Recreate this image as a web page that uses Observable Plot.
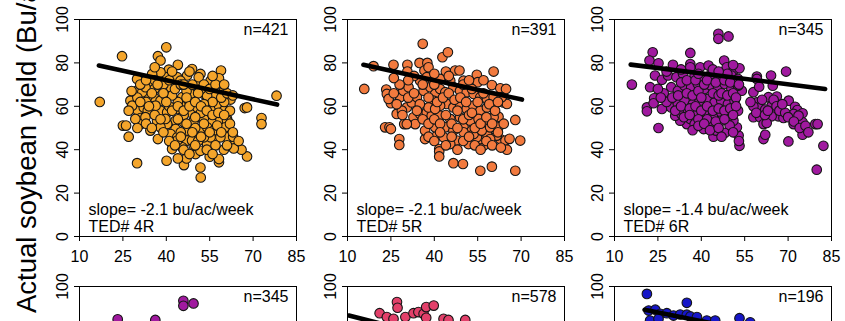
<!DOCTYPE html>
<html>
<head>
<meta charset="utf-8">
<script src="https://cdn.jsdelivr.net/npm/d3@7"></script>
<script src="https://cdn.jsdelivr.net/npm/@observablehq/plot@0.6"></script>
<style>
  html, body { margin: 0; padding: 0; background: white; }
  #fig { position: relative; width: 845px; height: 321px; overflow: hidden; background: white; }
  .panel { position: absolute; width: 274px; height: 267px; }
  .panel svg { max-width: none !important; }
  #ylab { position: absolute; left: 0; top: 0; pointer-events: none; }
</style>
</head>
<body>
<div id="fig">
  <svg id="ylab" width="845" height="321">
    <text id="ylabtext" transform="translate(36,313) rotate(-90)" font-family="'Liberation Sans', Arial, Helvetica, sans-serif" font-size="27.5" fill="black"></text>
  </svg>
</div>
<script>
// ---------- data ----------
const X_TICKS = [10, 25, 40, 55, 70, 85];
const Y_TICKS = [0, 20, 40, 60, 80, 100];
const Y_TICKS_LOWER = [100];
const Y_TITLE = "Actual soybean yield (Bu/ac)";

const N_LABELS = ["n=421", "n=391", "n=345", "n=345", "n=578", "n=196"];
const NOTES = ["slope= -2.1 bu/ac/week\nTED# 4R", "slope= -2.1 bu/ac/week\nTED# 5R", "slope= -1.4 bu/ac/week\nTED# 6R"];
const COLORS = ["#F4A52B", "#F27A3E", "#A0199F", "#A0199F", "#E2406A", "#1616C8"];

// panel TED# 4R : [x, yield]
const pts4R = [
[17.0,62.0],[24.7,83.1],[25,51.1],[26.1,51.1],[27.0,46.0],[29.9,33.8],[37.1,83.1],[38,81.1],[40,87.2],[40.9,76.9],
[44.0,79.1],[40.1,34.9],[48.9,77.2],[51.8,74.9],[58.9,76.5],[58.2,72.9],[51.8,31.8],[51.9,27.2],[46.1,32.9],[47.0,36.0],
[50.1,38.0],[55.0,36.8],[58.2,34.2],[58.2,35.7],[67.9,36.9],[66.0,40.0],[63.1,41.8],[63.3,40.6],[59.9,40.0],[61.0,45.7],
[63.1,46.0],[67.1,59.2],[67.9,59.5],[72.9,54.6],[72.9,51.8],[78.1,64.9],[62.2,63.1],[59.9,67.2],[57.0,64.9],[61.0,54.2],
[57,45.7],[54.1,43.4],[34.5,48.8],[37.1,44.9],[29.9,72.6],[29.9,67.2],[30.2,58.0],[31.1,54.6],[31.1,51.8],[27.6,62.6],
[32.2,59.5],[33.6,58],[34.7,70.3],[35.9,68],[35.7,64.2],[38,62.6],[40.1,64.2],[41.5,68.8],[38,58],[40.3,57.2],
[43.2,53.4],[43.2,49.5],[42,42.6],[44.9,44.2],[47.2,48.8],[43.8,58.8],[46.1,61.1],[48.4,57.2],[50.7,59.5],[49.5,65.7],
[53,65.7],[50.7,70.3],[54.1,64.9],[47.2,74.2],[51.2,73.4],[55.3,71.8],[46.1,52.6],[49.5,53.4],[53,54.2],[55.9,52.6],
[57.6,57.2],[51.8,48.8],[54.1,50.3],[56.4,48.8],[58.7,45.7],[47.2,44.2],[49.5,41.8],[51.8,39.5],[54.1,42.6],[41.5,47.2],
[43.8,45.7],[40.3,51.8],[36.8,53.4],[33.4,64.2],[31.7,66.5],[32.8,68.8],[40.3,73.4],[38,75.7],[35.1,74.9],[43.8,73.4],
[44.9,71.8],[45.5,64.2],[48.4,65.7],[29.3,54.2],[28.2,60.3],[32.8,55],[36.3,60.3],[38,50.3],[39.7,54.2],[55.9,59.5],
[58.2,60.3],[59.9,58],[58.7,54.2],[61,53.4],[60.4,50.3],[57.6,51.1],[55.3,45.7],[53,45.7],[50.1,46.5],[48.9,44.2],
[45.5,41.1],[42,40.3],[43.8,44.2],[44,62],[46,56],[48,62],[52,57],[42,65],[39,70],[36,72],
[33,62],[30,64],[52,68],[56,62],[60,62],[62,58],[45,48],[50,50],[53,61],[41,60],[44,54],[47,67],[50,55],
[31,70],[33,72],[35,66],[37,70],[39,66],[41,72],[43,68],[45,70],[47,64],[49,70],[51,66],[53,70],[55,68],[57,70],[59,64],[61,66],[63,65],
[31,62],[34,60],[36,56],[38,54],[40,62],[42,58],[44,60],[46,58],[48,60],[50,62],[52,60],[54,58],[56,56],[58,57],[60,56],[62,52],
[33,52],[35,50],[39,48],[41,44],[43,42],[45,46],[47,52],[49,48],[51,44],[53,52],[55,48],[57,42],[59,48],[61,42],[63,48],[65,44],
[46,40],[48,38],[50,42],[52,46],[54,40],[56,38],[44,36],[28,67],[27,58],[30,50],[46,70],[48,76],[42,76],[36,78],[56,74],[60,70]
];
const line4R_x = [16.7, 78.3];
const line4R_y = [78.8, 60.8];

// panel TED# 5R
const pts5R = [
[15.8,68.0],[19.0,78.5],[23.4,67.7],[23.6,65.7],[25.0,61.4],[23.0,50.3],[24.5,50.3],[25,49.5],[27.9,44.9],[27.9,42.2],
[29.6,51.8],[25.9,79.1],[30.7,79.1],[30.7,76],[34.9,80],[37.6,80],[36,88.8],[36.6,76.5],[42.8,82.6],[44.7,84.9],
[44,76],[47.2,76.5],[48.7,76.5],[50.1,71.8],[54.7,74.5],[55,71.1],[60.5,76],[59.9,69.8],[62.8,68.3],[64.8,68],
[41.7,40.3],[41.7,39.2],[41.7,36.9],[46.6,33.8],[49.9,33.4],[55.9,30.3],[59.9,32.2],[68,30.3],[62.8,44.9],[64.6,44.2],
[65.1,40.0],[68,53.7],[69.7,44.2],[62.2,55.2],[57.0,41.8],[55.9,44.9],[58.2,47.2],[47.8,44.2],[51.8,42.6],[54.7,45.7],
[43.8,50.3],[46.6,48.8],[50.1,50.3],[53,48.8],[40.9,46.5],[40.3,50.3],[36.8,44.9],[36.8,48.8],[32.8,54.9],[35.1,56.5],
[37.4,57.2],[39.1,55.7],[30.5,59.5],[32.2,61.8],[34,64.2],[28.2,64.2],[29.3,67.2],[31.1,68.8],[36.3,67.2],[38.6,68.8],
[40.3,65.7],[42,68],[43.8,66.5],[35.1,71.8],[37.4,73.4],[39.7,71.8],[42,72.6],[45.5,71.8],[46.6,68.8],[48.9,67.2],
[51.2,66.5],[53.6,65.7],[55.9,64.2],[58.2,63.4],[60.5,64.2],[44.3,61.1],[46.6,59.5],[48.9,61.1],[51.2,58.8],[53.5,60.3],
[55.9,58],[58.2,59.5],[60.5,60.3],[42,55.7],[45.5,54.2],[48.9,54.9],[52.4,53.4],[55.3,54.2],[58.2,52.6],[60.5,54.9],
[63.9,61.8],[65.1,61.1],[63.3,64.2],[39.7,62.6],[42,60.3],[38,59.5],[40.3,58.8],[50.1,48],[53.6,47.2],[56.4,48.8],
[59.3,50.3],[62.2,50.3],[61.6,46.5],[59.3,44.9],[33.4,51.8],[30.5,51.8],[27,56.5],[28.8,58],[24.2,63.4],[45.5,42.6],
[43.2,45.7],
[26,66],[27,61],[29,56],[31,64],[33,66],[35,61],[36,70],[38,64],[40,70],[41,62],[43,64],[45,66],[47,63],[49,64],[51,62],[53,68],[55,62],[57,66],[59,61],[61,58],[62,62],
[34,58],[36,54],[38,52],[40,54],[42,52],[44,56],[46,52],[48,50],[50,54],[52,56],[54,50],[56,52],[58,55],[60,52],[62,48],[64,52],
[38,46],[40,44],[42,48],[44,42],[46,46],[48,40],[50,44],[52,46],[54,42],[56,40],[58,44],[60,42],[63,41],[66,45],
[33,74],[38,78],[40,75],[45,74],[50,70],[52,72],[57,72],[48,58],[53,57],[31,72],[28,70],[26,73]
];
const line5R_x = [15.5, 70.3];
const line5R_y = [79.1, 63.1];

// panel TED# 6R
const pts6R = [
[16.0,70],[23.2,84.9],[22.1,81.1],[25.2,79.8],[22.3,68.8],[21.2,59.5],[21.2,57.7],[25.2,50],[23.7,63.7],[23.5,61.4],
[26.4,58.8],[24,74.2],[26.4,72.2],[30.2,79.1],[36.2,84.6],[36.2,79.5],[36.2,78],[39.6,78],[42.5,78.8],[45.9,93.4],
[45.9,91.1],[49.4,92.2],[47.9,81.1],[48.8,78],[51.1,76.5],[53.2,77.5],[54,67.2],[59.2,73.7],[59.2,72.6],[64.1,74.2],
[64.7,69.5],[69.3,76],[66.1,64.5],[70.2,62.6],[72.4,59.8],[73.2,58.3],[75,56.8],[75,52.6],[75,46.9],[70.1,43.8],
[61.5,44.9],[62.1,46.9],[79.4,51.8],[80.2,51.8],[82.2,41.8],[79.9,30.8],[71.9,56.5],[71.9,51.8],[58,66.5],[59.2,61.8],
[60.3,59.5],[58,55],[60.3,55],[61.5,51.8],[63.2,64.2],[64.3,60.3],[65.5,57.7],[66.6,55.4],[68.4,54.6],[64.3,55.4],
[62.6,52.3],[62.1,58.5],[53.2,41.8],[52.9,46.5],[52.3,50.3],[51.1,53.4],[50.6,56.5],[44.2,46],[45.1,48.8],[40.8,49.5],
[42.5,51.8],[35,51.8],[36.2,54.2],[32.7,53.4],[31,55.7],[29.6,59.5],[31.9,61.1],[34.2,62.6],[37.1,61.1],[39.4,62.6],
[42.3,63.4],[44.6,61.8],[46.9,62.6],[49.2,61.1],[51.5,62.6],[29.6,68.8],[31.9,67.2],[34.2,69.5],[36.5,68.8],[38.8,70.3],
[41.1,68],[43.4,69.5],[45.8,68.8],[48.1,70.3],[50.4,68],[52.7,69.5],[28.5,74.2],[31.4,73.4],[33.7,74.9],[37.7,74.2],
[40.6,73.4],[43.4,74.9],[46.9,73.4],[50.4,74.2],[52.7,72.6],[33.1,56.5],[35.4,58],[38.3,56.5],[41.1,57.2],[44,55.7],
[46.9,57.2],[49.8,55.7],[52.7,58],[37.7,51.8],[40,53.4],[43.4,51.8],[46.9,53.4],[49.8,51.1],[48.1,47.7],[73.6,55.7],
[27,66],[28,62],[30,64],[32,65],[33,71],[35,72],[35,66],[37,65],[38,72],[39,67],[40,64],[41,70],[42,72],[44,66],[45,71],[46,65],[47,66],[48,72],[49,65],[50,71],[51,66],[52,64],[53,70],
[31,58],[33,60],[36,59],[38,60],[40,58],[42,60],[44,58],[46,59],[48,58],[50,59],[52,60],[34,55],[36,56],[39,54],[42,54],[45,53],[48,54],[51,56],
[37,49],[39,51],[41,52],[43,49],[46,50],[47,46],[51,48],[53,44],
[58,60],[59,57],[61,63],[62,56],[63,58],[65,63],[66,60],[67,58],[69,57],[70,55],[72,53],[74,50],[76,51],[77,48],[68,61],[60,69],[57,62],
[25,68],[26,64],[28,76],[33,77],[39,75],[44,77],[49,75],[51,79],[46,76]
];
const line6R_x = [15.6, 82.8];
const line6R_y = [79.2, 68.0];

// lower row (only the top part is visible)
const ptsLowMid = [
[27.1,92.8],[27.3,90.2],[21.1,87.7],[23.6,85.9],[25.9,85.1],[30,85.9],[32.8,87.7],[34.5,88.2],[36.3,87.4],[37.2,90.5],
[39.8,91.2],[37.2,85.6],[43.2,85.1],[44.9,84.6],[50.7,84.6]
];
const lineLowMid_x = [10.5, 72];
const lineLowMid_y = [86.6, 66.0];

const ptsLowRight = [
[21.2,96.6],[35,92.5],[53.2,85.4],[56.9,83.5],[21.8,88.9],[24.1,89.3],[25.8,87.4],[28.1,87.7],[30.4,86.6],[32.7,87.1],
[35,87],[36.2,86.2],[38.5,85.9],[41.9,84.3],[44.8,84.3],[22.3,84.3],[25.2,85.1]
];
const lineLowRight_x = [20.4, 62];
const lineLowRight_y = [89.3, 78.1];

// ---------- drawing ----------
const FONT = "'Liberation Sans', Arial, Helvetica, sans-serif";
const FRAME_LEFTS = [79, 347, 614];
const FRAME_TOPS = [19, 286];
const ML = 45, MT = 10, MR = 12, MB = 40, FW = 217, FH = 217;

function panel(pts, lx, ly, fill, nLabel, note, lower) {
  const data = pts.map(([x, y]) => ({x, y}));
  const ln = lx.map((x, i) => ({x, y: ly[i]}));
  const marks = [
    Plot.dot(data, {x: "x", y: "y", r: 4.8, fill, fillOpacity: 1, stroke: "#151515", strokeWidth: 1.1, clip: true}),
    Plot.line(ln, {x: "x", y: "y", stroke: "black", strokeWidth: 4.6, strokeLinecap: "round", clip: true}),
    Plot.frame({stroke: "black", strokeWidth: 1}),
    Plot.axisY(lower ? Y_TICKS_LOWER : Y_TICKS, {tickSize: 5, tickPadding: 7, tickRotate: -90, label: null, fontSize: 16}),
    Plot.text([nLabel], {text: d => d, frameAnchor: "top-right", textAnchor: "end", lineAnchor: "bottom", dx: -8, dy: 15, fontSize: 16, fill: "black"})
  ];
  if (!lower) {
    marks.push(Plot.axisX(X_TICKS, {tickSize: 5, tickPadding: 9, label: null, fontSize: 16}));
    marks.push(Plot.text([note], {text: d => d, frameAnchor: "bottom-left", textAnchor: "start", lineAnchor: "bottom", lineHeight: 1.025, dx: 9, dy: -5, fontSize: 16, fill: "black"}));
  } else {
    marks.push(Plot.axisX({ticks: [], label: null}));
  }
  return Plot.plot({
    width: ML + FW + MR,
    height: MT + FH + MB,
    marginLeft: ML, marginRight: MR, marginTop: MT, marginBottom: MB,
    x: {domain: [10, 85]},
    y: {domain: [0, 100]},
    style: {fontFamily: FONT, fontSize: "16px", background: "transparent", color: "black", overflow: "visible"},
    marks
  });
}

const fig = document.getElementById("fig");
document.getElementById("ylabtext").textContent = Y_TITLE;

const specs = [
  [pts4R, line4R_x, line4R_y, 0, 0, 0],
  [pts5R, line5R_x, line5R_y, 1, 0, 1],
  [pts6R, line6R_x, line6R_y, 2, 0, 2],
  [pts6R, line6R_x, line6R_y, 0, 1, 3],
  [ptsLowMid, lineLowMid_x, lineLowMid_y, 1, 1, 4],
  [ptsLowRight, lineLowRight_x, lineLowRight_y, 2, 1, 5]
];
for (const [pts, lx, ly, col, row, k] of specs) {
  const div = document.createElement("div");
  div.className = "panel";
  div.style.left = (FRAME_LEFTS[col] - ML) + "px";
  div.style.top = (FRAME_TOPS[row] - MT) + "px";
  div.appendChild(panel(pts, lx, ly, COLORS[k], N_LABELS[k], row === 0 ? NOTES[col] : null, row === 1));
  fig.appendChild(div);
}
</script>
</body>
</html>
